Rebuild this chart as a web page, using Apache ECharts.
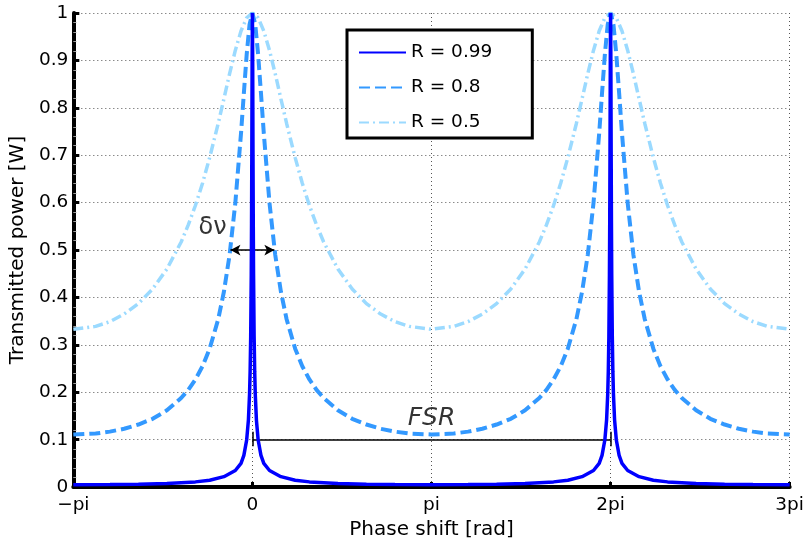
<!DOCTYPE html>
<html><head><meta charset="utf-8">
<script src="https://cdn.jsdelivr.net/npm/echarts@6/dist/echarts.min.js"></script>
<style>html,body{margin:0;padding:0;background:#fff}#c{width:807px;height:545px}</style>
</head><body><div id="c"></div>
<script>
// ---- data ----
const seriesNames = ['R = 0.99', 'R = 0.8', 'R = 0.5'];
const peakCentersPi = [0, 2];            // peak positions, in units of pi
const xTickValues = [-1, 0, 1, 2, 3];    // in units of pi
const xTickLabels = ['\u2212pi', '0', 'pi', '2pi', '3pi'];

// phase offset from a peak (rad) and transmitted power, one half period
const offsR099 = [0, 0.005, 0.01, 0.015, 0.02, 0.03, 0.04, 0.05, 0.07, 0.1, 0.15, 0.2, 0.3, 0.5, 0.75, 1.0, 1.5, 2.0, 2.5, 3.1416];
const valsR099 = [1, 0.895, 0.709, 0.557, 0.449, 0.318, 0.244, 0.197, 0.142, 0.100, 0.067, 0.050, 0.035, 0.022, 0.0145, 0.0110, 0.0076, 0.0061, 0.0054, 0.0050];

const offsR08 = [0, 0.05, 0.1, 0.15, 0.2, 0.3, 0.4, 0.5, 0.6, 0.75, 0.875, 1.0, 1.125, 1.25, 1.5, 1.75, 2.0, 2.25, 2.5, 2.75, 3.1416];
const valsR08 = [1, 0.976, 0.913, 0.831, 0.746, 0.599, 0.490, 0.412, 0.354, 0.292, 0.255, 0.227, 0.205, 0.188, 0.162, 0.144, 0.132, 0.123, 0.117, 0.113, 0.111];

const offsR05 = [0, 0.1, 0.2, 0.3, 0.4, 0.5, 0.6, 0.75, 0.875, 1.0, 1.125, 1.25, 1.5, 1.75, 2.0, 2.25, 2.5, 2.75, 3.1416];
const valsR05 = [1, 0.990, 0.962, 0.921, 0.872, 0.819, 0.767, 0.695, 0.641, 0.594, 0.553, 0.517, 0.460, 0.418, 0.387, 0.365, 0.349, 0.339, 0.333];

// annotations
const fsrLevel = 0.1;  const fsrFromPi = 0;  const fsrToPi = 2;  const fsrCap = [0.086, 0.117];
const fwhmLevel = 0.5; const fwhmHalfWidthPi = 0.1226;
const fsrText = {name: 'FSR', x: 1.0, y: 0.145};
const dnuText = {name: '\u03b4\u03bd', x: -0.222, y: 0.546};

// ---- build ----
function buildPeriodic(offs, vals) {
  const pts = [];
  for (const c of peakCentersPi) {
    for (let i = offs.length - 1; i > 0; i--) pts.push([c - offs[i] / Math.PI, vals[i]]);
    for (let i = 0; i < offs.length; i++) pts.push([c + offs[i] / Math.PI, vals[i]]);
  }
  return pts;
}
const FONT = 'DejaVu Sans';
const chart = echarts.init(document.getElementById('c'), null, {renderer: 'canvas'});
const lineSeries = (name, data, color, width, dash, z) => ({
  name, type: 'line', data, symbol: 'none', showSymbol: false, z,
  lineStyle: {color, width, type: dash}, itemStyle: {color}, silent: true
});
chart.setOption({
  animation: false,
  backgroundColor: '#fff',
  grid: {left: 72, right: 15, top: 13, bottom: 54, containLabel: false},
  legend: {
    data: seriesNames, orient: 'vertical', left: 347, top: 30,
    itemWidth: 47, itemHeight: 14, itemGap: 16,
    padding: [13, 40, 6, 11],
    borderColor: '#000', borderWidth: 3, backgroundColor: '#fff',
    itemStyle: {opacity: 0},
    textStyle: {fontFamily: FONT, fontSize: 18.5, color: '#000'},
    selectedMode: false
  },
  xAxis: {
    type: 'value', min: -1, max: 3, interval: 1,
    name: 'Phase shift [rad]', nameLocation: 'middle', nameGap: 18,
    nameTextStyle: {fontFamily: FONT, fontSize: 20, color: '#000'},
    axisLine: {show: true, onZero: false, lineStyle: {color: '#000', width: 4}},
    axisTick: {show: true, inside: true, length: 5, lineStyle: {color: '#000', width: 3}},
    axisLabel: {fontFamily: FONT, fontSize: 18.5, color: '#000', margin: 9,
      formatter: v => { const i = xTickValues.indexOf(Math.round(v)); return i >= 0 ? xTickLabels[i] : ''; }},
    splitLine: {show: true, lineStyle: {color: '#555', width: 1, type: [1, 3]}}
  },
  yAxis: {
    type: 'value', min: 0, max: 1, interval: 0.1,
    name: 'Transmitted power [W]', nameLocation: 'middle', nameGap: 39,
    nameTextStyle: {fontFamily: FONT, fontSize: 20, color: '#000'},
    axisLine: {show: true, onZero: false, lineStyle: {color: '#000', width: 4}},
    axisTick: {show: true, inside: true, length: 6, lineStyle: {color: '#000', width: 3}},
    minorTick: {show: true, splitNumber: 5, length: 3, lineStyle: {color: '#999', width: 1}},
    axisLabel: {fontFamily: FONT, fontSize: 18.5, color: '#000', margin: 5},
    splitLine: {show: true, lineStyle: {color: '#555', width: 1, type: [1, 3]}}
  },
  series: [
    lineSeries(seriesNames[0], buildPeriodic(offsR099, valsR099), '#0000FF', 3.5, 'solid', 5),
    lineSeries(seriesNames[1], buildPeriodic(offsR08, valsR08), '#3399FF', 4, [11, 5], 4),
    lineSeries(seriesNames[2], buildPeriodic(offsR05, valsR05), '#9BDAFF', 3.5, [10, 4, 2, 4], 3),
    {
      name: 'annotations', type: 'scatter', z: 10, silent: true,
      symbol: 'circle', symbolSize: 1, itemStyle: {color: 'rgba(0,0,0,0)'},
      data: [
        {name: fsrText.name, value: [fsrText.x, fsrText.y],
          label: {show: true, position: 'inside', formatter: '{b}', fontFamily: FONT, fontSize: 25, fontStyle: 'italic', color: '#000'}},
        {name: dnuText.name, value: [dnuText.x, dnuText.y],
          label: {show: true, position: 'inside', formatter: '{b}', fontFamily: FONT, fontSize: 24, color: '#000'}}
      ],
      markLine: {
        silent: true, animation: false, symbol: 'none', label: {show: false},
        lineStyle: {color: '#000', width: 1.5, type: 'solid'},
        data: [
          [{coord: [fsrFromPi, fsrLevel]}, {coord: [fsrToPi, fsrLevel]}],
          [{coord: [fsrFromPi, fsrCap[0]]}, {coord: [fsrFromPi, fsrCap[1]]}],
          [{coord: [fsrToPi, fsrCap[0]]}, {coord: [fsrToPi, fsrCap[1]]}],
          [{coord: [-fwhmHalfWidthPi, fwhmLevel], symbol: 'arrow', symbolSize: [8, 10]},
           {coord: [fwhmHalfWidthPi, fwhmLevel], symbol: 'arrow', symbolSize: [8, 10]}]
        ]
      }
    }
  ]
});
</script></body></html>
